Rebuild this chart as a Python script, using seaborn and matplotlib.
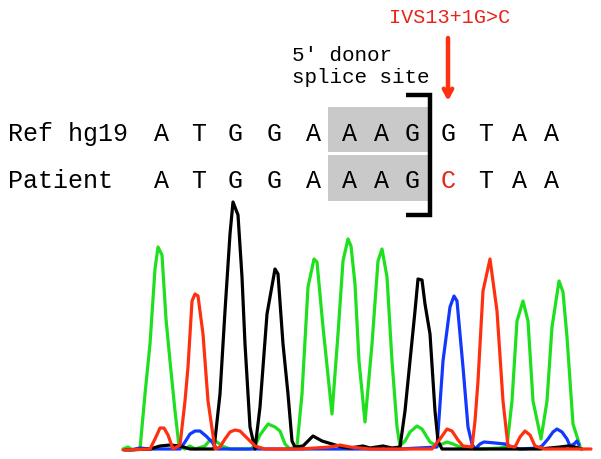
import matplotlib
matplotlib.use('Agg')
import matplotlib.pyplot as plt
from matplotlib.patches import Rectangle
import seaborn as sns
import pandas as pd

# sequence rows
ref_bases = list("ATGGAAAGGTAA")
patient_bases = list("ATGGAAAGCTAA")
mutant_index = 8
mutation_label = "IVS13+1G>C"
site_label = "5\u2032 donor\nsplice site"

# chromatogram traces (scan position, signal)
green_scan = [3, 8, 13, 20, 25, 30, 35, 38, 42, 46, 50, 55, 59, 65, 70, 75, 85, 90, 97, 102, 110,
              130, 135, 140, 148, 155, 160, 165, 170, 177, 182, 188, 194, 197, 203, 212, 218, 223,
              228, 231, 235, 239, 245, 252, 258, 262, 267, 272, 277, 280, 285, 290, 297, 302, 310,
              317, 327, 333, 340, 360, 380, 387, 392, 397, 403, 408, 413, 421, 427, 432, 439, 443,
              447, 453, 460]
green_signal = [1, 3, 0, 1, 56, 106, 181, 203, 195, 131, 89, 39, 4, 1, 4, 1, 4, 10, 8, 4, 1,
                1, 4, 15, 26, 23, 19, 6, 1, 4, 56, 163, 191, 188, 123, 36, 116, 189,
                211, 204, 166, 89, 28, 106, 189, 201, 173, 89, 23, 4, 9, 18, 24, 21, 8,
                4, 8, 6, 3, 1, 2, 4, 49, 129, 149, 129, 49, 11, 49, 123, 169, 158,
                113, 26, 4]

black_scan = [5, 30, 40, 50, 60, 70, 94, 100, 105, 110, 113, 118, 122, 125, 130, 135, 140, 147,
              155, 158, 163, 168, 172, 175, 183, 193, 202, 212, 222, 230, 243, 250, 263, 272,
              280, 285, 290, 295, 298, 302, 305, 310, 315, 318, 322, 360, 420, 440, 448, 455, 462]
black_signal = [0, 1, 4, 5, 4, 1, 1, 56, 139, 216, 248, 235, 173, 106, 23, 1, 43, 136,
                181, 176, 106, 56, 9, 3, 4, 14, 9, 6, 3, 2, 4, 2, 4, 2,
                3, 39, 89, 139, 171, 170, 146, 116, 39, 9, 1, 1, 1, 3, 4, 3, 1]

red_scan = [3, 30, 35, 40, 44, 48, 53, 60, 65, 68, 72, 75, 78, 83, 88, 95, 100, 105, 110, 115,
            120, 125, 135, 145, 180, 210, 220, 230, 250, 312, 320, 327, 332, 338, 343, 352, 355,
            358, 363, 370, 377, 383, 388, 395, 400, 405, 410, 415, 425, 471]
red_signal = [0, 1, 11, 22, 22, 15, 1, 5, 49, 83, 149, 156, 154, 116, 49, 1, 3, 11, 18, 20,
              19, 14, 4, 1, 1, 3, 5, 3, 1, 1, 11, 21, 19, 10, 4, 3, 29,
              69, 159, 191, 139, 49, 4, 3, 13, 19, 15, 4, 1, 1]

blue_scan = [10, 20, 30, 60, 65, 70, 75, 80, 86, 92, 97, 180, 280, 317, 323, 330, 334, 337, 343,
             348, 352, 355, 360, 364, 375, 385, 392, 400, 418, 422, 428, 433, 437, 442, 447, 450,
             454, 457, 459]
blue_signal = [0, 2, 1, 1, 8, 16, 19, 19, 14, 8, 1, 1, 1, 3, 89, 143, 154, 149, 83,
               23, 6, 1, 6, 8, 7, 6, 3, 1, 2, 4, 11, 18, 21, 18, 11, 4,
               6, 9, 5]

traces = [
    ("A", green_scan, green_signal, "#1ee01e"),
    ("C", blue_scan, blue_signal, "#1238ff"),
    ("G", black_scan, black_signal, "#000000"),
    ("T", red_scan, red_signal, "#ff3010"),
]

sns.set_style("white")
mono = ["Liberation Mono", "DejaVu Sans Mono"]
plt.rcParams["font.family"] = mono

fig = plt.figure(figsize=(6.01, 4.60), dpi=100)

# chromatogram
ax = fig.add_axes([120 / 601, 9 / 460, 480 / 601, 256 / 460])
for dye, xs, ys, col in traces:
    df = pd.DataFrame({"scan": xs, "signal": ys})
    sns.lineplot(data=df, x="scan", y="signal", sort=False, estimator=None,
                 color=col, lw=2.3, ax=ax, clip_on=False)
ax.set_xlim(0, 480)
ax.set_ylim(0, 256)
ax.axis("off")

# annotation layer in pixel coordinates
ov = fig.add_axes([0, 0, 1, 1])
ov.set_xlim(0, 601)
ov.set_ylim(460, 0)
ov.axis("off")
ov.patch.set_alpha(0)

base_x = [161, 199, 235, 274, 313, 350, 382, 412, 448, 486, 520, 552]

ov.add_patch(Rectangle((328, 108), 100, 45, color="#c9c9c9", lw=0))
ov.add_patch(Rectangle((328, 156), 100, 46, color="#c9c9c9", lw=0))

ov.text(8, 141, "Ref hg19", fontsize=18, va="baseline", ha="left", color="black")
ov.text(8, 188, "Patient", fontsize=18, va="baseline", ha="left", color="black")
for i, (r, p) in enumerate(zip(ref_bases, patient_bases)):
    ov.text(base_x[i], 141, r, fontsize=18, va="baseline", ha="center", color="black")
    pc = "#e8231a" if i == mutant_index else "black"
    ov.text(base_x[i], 188, p, fontsize=18, va="baseline", ha="center", color=pc)

# bracket
ov.plot([406, 430, 430, 406], [96, 96, 216, 216], color="black", lw=3.2,
        solid_joinstyle="miter", solid_capstyle="butt")

ov.text(292, 83, site_label, fontsize=15, va="baseline", ha="left",
        color="black", linespacing=1.2)

ov.text(450, 23, mutation_label, fontsize=14.5, va="baseline", ha="center", color="#e8231a")
ov.annotate("", xy=(448, 102), xytext=(448, 39),
            arrowprops=dict(arrowstyle="->,head_length=0.55,head_width=0.3",
                            color="#ff3010", lw=3.2, shrinkA=0, shrinkB=0))

fig.savefig("out.png", dpi=100)
